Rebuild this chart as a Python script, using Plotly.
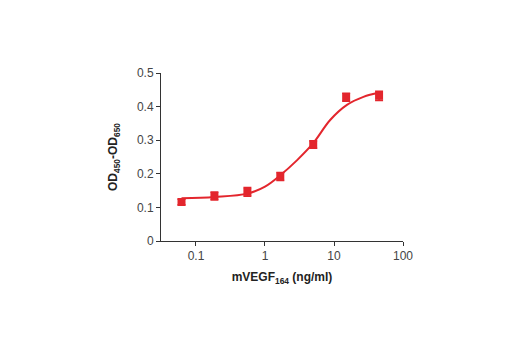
import plotly.graph_objects as go

# Measured points
conc = [0.0617, 0.185, 0.556, 1.667, 5.0, 15.0, 45.0]
od = [0.116, 0.134, 0.146, 0.192, 0.287, 0.428, 0.432]
err = [0.008, 0.012, 0.013, 0.012, 0.011, 0.012, 0.014]

# Fitted curve
curve_x = [0.0617, 0.185, 0.556, 1.0, 1.65, 2.9, 5.0, 8.8, 15.4, 26.7, 45.0]
curve_y = [0.127, 0.131, 0.141, 0.162, 0.195, 0.240, 0.291, 0.360, 0.405, 0.429, 0.441]

x_ticks = [0.1, 1, 10, 100]
x_tick_labels = ["0.1", "1", "10", "100"]
y_ticks = [0, 0.1, 0.2, 0.3, 0.4, 0.5]
y_tick_labels = ["0", "0.1", "0.2", "0.3", "0.4", "0.5"]

RED = "#e3262d"
FONT = "Liberation Sans Narrow, Arial Narrow, Liberation Sans, sans-serif"

fig = go.Figure()
fig.add_trace(go.Scatter(
    x=curve_x, y=curve_y, mode="lines",
    line=dict(color=RED, width=2, shape="spline", smoothing=1.0),
    hoverinfo="skip", showlegend=False))
fig.add_trace(go.Scatter(
    x=conc, y=od, mode="markers",
    marker=dict(symbol="square", size=8, color=RED),
    error_y=dict(type="data", array=err, color=RED, thickness=1.5, width=4),
    showlegend=False))

fig.update_layout(
    width=520, height=350,
    margin=dict(l=161, r=117, t=73, b=109),
    paper_bgcolor="white", plot_bgcolor="white",
    font=dict(family=FONT, size=12, color="#333"),
    xaxis=dict(
        type="log", range=[-1.507, 2.0],
        tickvals=x_ticks, ticktext=x_tick_labels,
        ticks="outside", ticklen=4, tickcolor="#333",
        showline=True, linecolor="#333", linewidth=1,
        showgrid=False, zeroline=False,
        tickfont=dict(size=12, color="#444"),
        title=dict(text="<b>mVEGF<sub>164</sub> (ng/ml)</b>", font=dict(size=12, color="#222"), standoff=10),
    ),
    yaxis=dict(
        range=[0, 0.5],
        tickvals=y_ticks, ticktext=y_tick_labels,
        ticks="outside", ticklen=4, tickcolor="#333",
        showline=True, linecolor="#333", linewidth=1,
        showgrid=False, zeroline=False,
        tickfont=dict(size=12, color="#444"),
        title=dict(text="<b>OD<sub>450</sub>-OD<sub>650</sub></b>", font=dict(size=12, color="#222"), standoff=16),
    ),
)

fig.write_html("out.html")
